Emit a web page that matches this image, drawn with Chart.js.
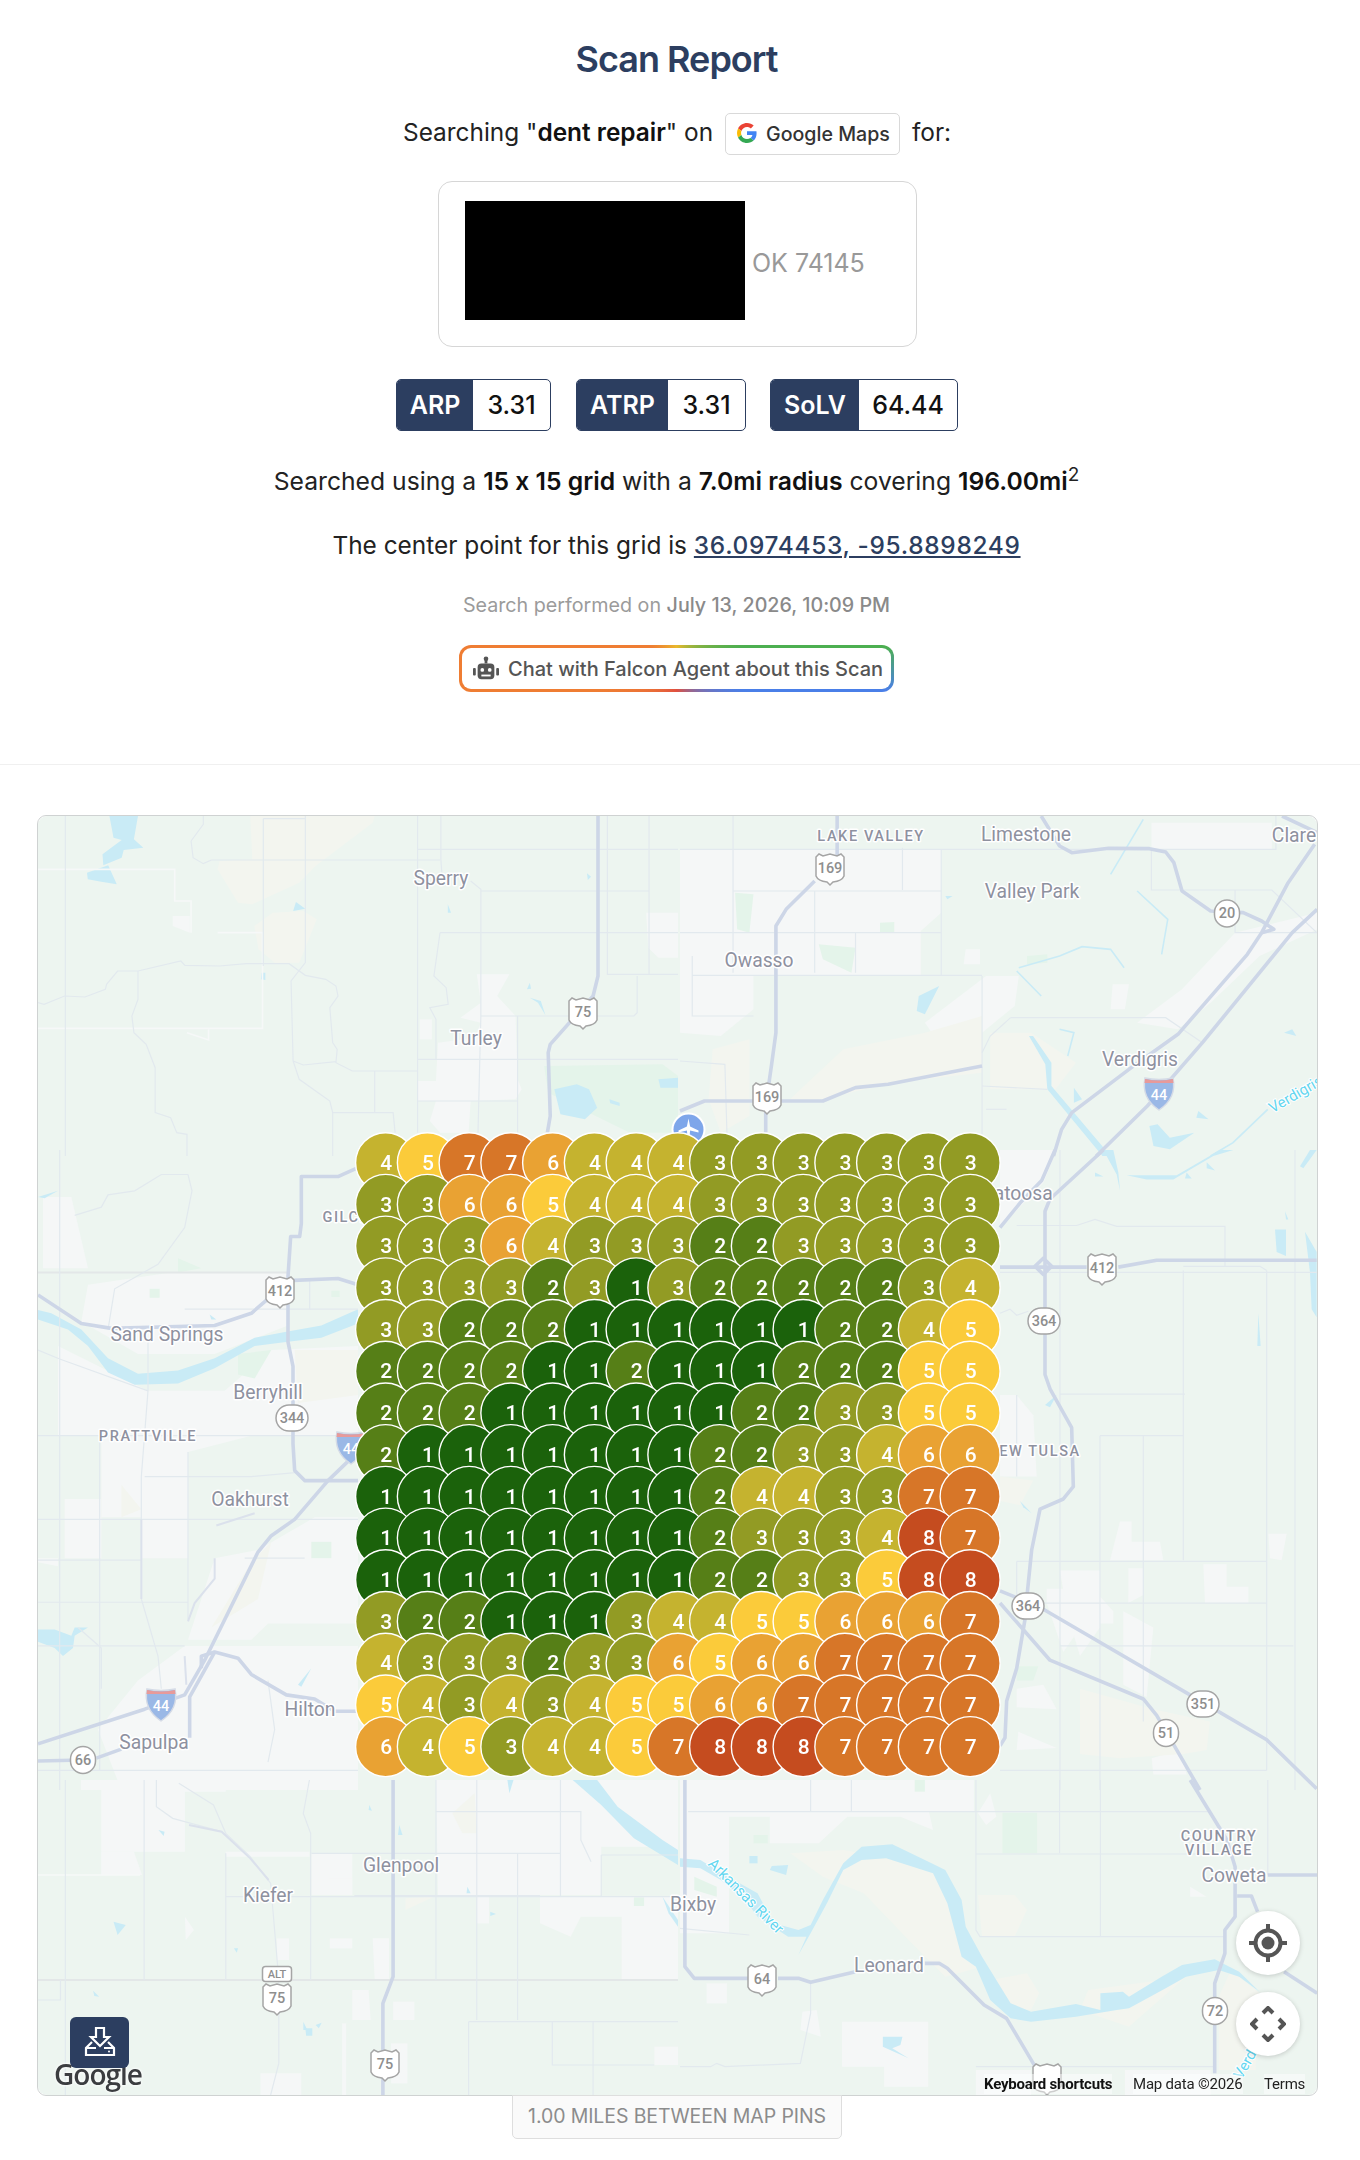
<!DOCTYPE html>
<html><head><meta charset="utf-8"><title>Scan Report</title>
<script src="https://cdn.jsdelivr.net/npm/chart.js@4"></script>
<style>
html,body{margin:0;padding:0;background:#fff}
body{width:1360px;height:2160px;position:relative;overflow:hidden;font-family:Inter,sans-serif;color:#222;font-feature-settings:"calt" 0}
.a{position:absolute;white-space:nowrap}
.c{position:absolute;left:0;width:1353px;text-align:center;white-space:nowrap}
b{font-weight:600;color:#111}
.badge{position:absolute;top:379px;height:50px;border:1px solid #2c3e60;border-radius:5px;display:flex;overflow:hidden;font-size:25px;line-height:50px;font-weight:600}
.badge i{font-style:normal;background:#2c3e60;color:#fff;text-align:center;display:block}
.badge u{text-decoration:none;color:#111;text-align:center;flex:1;display:block;font-weight:500}
#map{position:absolute;left:38px;top:816px;width:1279px;height:1279px;overflow:hidden;border-radius:9px;background:#edf5f0}
#map svg.base{position:absolute;left:0;top:0}
#map canvas{position:absolute;left:0;top:0}
#frame{position:absolute;left:37px;top:815px;width:1279px;height:1279px;border:1px solid #cfd2d2;border-radius:9px;pointer-events:none}
.mt{font-family:Roboto,sans-serif;font-size:19.3px;fill:#8e919f;stroke:#fff;stroke-width:3px;paint-order:stroke;stroke-linejoin:round;text-anchor:middle;dominant-baseline:central}
.mc{font-size:14.5px;font-weight:500;letter-spacing:1.6px}
.mw{font-family:Roboto,sans-serif;font-size:15px;fill:#63d6f0;stroke:#fff;stroke-width:2px;paint-order:stroke;text-anchor:middle;dominant-baseline:central}
.sh{font-family:Roboto,sans-serif;font-size:14.5px;font-weight:500;fill:#8e8e8e;text-anchor:middle;dominant-baseline:central}
.ctl{position:absolute;width:64px;height:64px;border-radius:50%;background:#fff;box-shadow:0 1px 5px rgba(0,0,0,.18)}
.foot{position:absolute;font-family:Roboto,sans-serif;font-size:15px;color:#222;top:2074px;line-height:20px;white-space:nowrap;background:rgba(255,255,255,.45);letter-spacing:-.2px}
</style></head>
<body>
<div class="c" style="top:36px;font-size:36px;line-height:46px;font-weight:600;color:#2c3e60;letter-spacing:-1px">Scan Report</div>

<div class="a" style="left:403px;top:117px;font-size:24.4px;line-height:30px">Searching "<b>dent repair</b>" on</div>
<div class="a" style="left:725px;top:113px;width:173px;height:40px;border:1px solid #d9d9d9;border-radius:5px"></div>
<svg class="a" style="left:737px;top:123px" width="20" height="20" viewBox="0 0 48 48"><path fill="#EA4335" d="M24 9.5c3.54 0 6.71 1.22 9.21 3.6l6.85-6.85C35.9 2.38 30.47 0 24 0 14.62 0 6.51 5.38 2.56 13.22l7.98 6.19C12.43 13.72 17.74 9.5 24 9.5z"/><path fill="#4285F4" d="M46.98 24.55c0-1.57-.15-3.09-.38-4.55H24v9.02h12.94c-.58 2.96-2.26 5.48-4.78 7.18l7.73 6c4.51-4.18 7.09-10.36 7.09-17.65z"/><path fill="#FBBC05" d="M10.53 28.59c-.48-1.45-.76-2.99-.76-4.59s.27-3.14.76-4.59l-7.98-6.19C.92 16.46 0 20.12 0 24c0 3.88.92 7.54 2.56 10.78l7.97-6.19z"/><path fill="#34A853" d="M24 48c6.48 0 11.93-2.13 15.89-5.81l-7.73-6c-2.15 1.45-4.92 2.3-8.16 2.3-6.26 0-11.57-4.22-13.47-9.91l-7.98 6.19C6.51 42.62 14.62 48 24 48z"/></svg>
<div class="a" style="left:766px;top:120px;font-size:19.6px;line-height:28px;font-weight:500;color:#333">Google Maps</div>
<div class="a" style="left:912px;top:117px;font-size:24.4px;line-height:30px">for:</div>

<div class="a" style="left:438px;top:181px;width:477px;height:164px;border:1px solid #d6d6d6;border-radius:14px"></div>
<div class="a" style="left:465px;top:201px;width:280px;height:119px;background:#000"></div>
<div class="a" style="left:752px;top:248px;font-size:25px;line-height:30px;color:#999">OK 74145</div>

<div class="badge" style="left:396px;width:153px"><i style="width:76px">ARP</i><u>3.31</u></div>
<div class="badge" style="left:576px;width:168px"><i style="width:91px">ATRP</i><u>3.31</u></div>
<div class="badge" style="left:770px;width:186px"><i style="width:88px">SoLV</i><u>64.44</u></div>

<div class="c" style="top:463px;font-size:24.7px;line-height:36px">Searched using a <b>15 x 15 grid</b> with a <b>7.0mi radius</b> covering <b>196.00mi</b><sup style="font-size:19px;line-height:0;vertical-align:9px">2</sup></div>
<div class="c" style="top:527px;font-size:24.4px;line-height:36px">The center point for this grid is <span style="color:#2c3e60;text-decoration:underline;font-weight:500;letter-spacing:.7px">36.0974453, -95.8898249</span></div>
<div class="c" style="top:591px;font-size:19.7px;line-height:28px;color:#9b9b9b">Search performed on <span style="font-weight:500;color:#8a8a8a">July 13, 2026, 10:09 PM</span></div>

<div class="a" style="left:459px;top:645px;width:429px;height:41px;border:3px solid transparent;border-radius:12px;background:linear-gradient(#fff,#fff) padding-box,conic-gradient(from 0deg,#e9b82c 0deg,#4caf50 72deg,#4caf50 84deg,#4a7fe8 96deg,#4a7fe8 108deg,#e0503f 180deg,#ef7d33 255deg,#ef7d33 310deg,#e9b82c 360deg) border-box"></div>
<svg class="a" style="left:473px;top:656px" width="26" height="26" viewBox="0 0 28 28" fill="#555"><rect x="5" y="8" width="18" height="17" rx="4"/><rect x="0" y="13" width="3" height="8" rx="1"/><rect x="25" y="13" width="3" height="8" rx="1"/><rect x="12.5" y="2" width="3" height="6"/><circle cx="14" cy="3" r="2.5"/><circle cx="10" cy="15" r="2" fill="#fff"/><circle cx="18" cy="15" r="2" fill="#fff"/><rect x="9" y="20" width="10" height="2" fill="#fff"/></svg>
<div class="a" style="left:508px;top:655px;font-size:20px;line-height:28px;font-weight:500;color:#555">Chat with Falcon Agent about this Scan</div>

<div class="a" style="left:0;top:764px;width:1360px;height:1px;background:#f0f0f0"></div>

<div id="map">
<svg class="base" id="base" width="1279" height="1279" viewBox="38 816 1279 1279" xmlns="http://www.w3.org/2000/svg">
  <g id="geo"></g>
  <g id="labels">
  <text class="mt mc" x="871" y="836">LAKE VALLEY</text>
  <text class="mt" x="1026" y="834">Limestone</text>
  <text class="mt" x="1294" y="835">Clare</text>
  <text class="mt" x="441" y="878">Sperry</text>
  <text class="mt" x="1032" y="891">Valley Park</text>
  <text class="mt" x="759" y="960">Owasso</text>
  <text class="mt" x="476" y="1038">Turley</text>
  <text class="mt" x="1140" y="1059">Verdigris</text>
  <text class="mt" x="1017" y="1193">Catoosa</text>
  <text class="mt mc" x="367" y="1217">GILCREASE</text>
  <text class="mt" x="167" y="1334">Sand Springs</text>
  <text class="mt" x="268" y="1392">Berryhill</text>
  <text class="mt mc" x="148" y="1436">PRATTVILLE</text>
  <text class="mt mc" x="1034" y="1451">NEW TULSA</text>
  <text class="mt" x="250" y="1499">Oakhurst</text>
  <text class="mt" x="310" y="1709">Hilton</text>
  <text class="mt" x="154" y="1742">Sapulpa</text>
  <text class="mt" x="401" y="1865">Glenpool</text>
  <text class="mt" x="268" y="1895">Kiefer</text>
  <text class="mt" x="693" y="1904">Bixby</text>
  <text class="mt" x="889" y="1965">Leonard</text>
  <text class="mt mc" x="1219" y="1836">COUNTRY</text>
  <text class="mt mc" x="1219" y="1850">VILLAGE</text>
  <text class="mt" x="1234" y="1875">Coweta</text>
  <text class="mw" transform="translate(746 1896) rotate(45)">Arkansas River</text>
  <text class="mw" style="text-anchor:start" transform="translate(1270 1109) rotate(-30)">Verdigris River</text>
  <text class="mw" transform="translate(1252 2052) rotate(-60)">Verdigris</text>
  </g>
  <defs>
    <path id="us" d="M-14,-11 L-11,-14 L-7,-12 L0,-14 L7,-12 L11,-14 L14,-11 L14,8 Q12,13 3,14 L0,17 L-3,14 Q-12,13 -14,8 Z" fill="#fff" stroke="#a5a5a5" stroke-width="1.5"/>
    <rect id="o3" x="-16" y="-13" width="32" height="26" rx="13" fill="#fff" stroke="#a5a5a5" stroke-width="1.5"/>
    <rect id="o2" x="-12.5" y="-13.5" width="25" height="27" rx="12.5" fill="#fff" stroke="#a5a5a5" stroke-width="1.5"/>
    <g id="is"><path d="M-14,-14 Q0,-11 14,-14 Q18,6 0,18 Q-18,6 -14,-14Z" fill="#9ab8e6" stroke="#d5dbe6" stroke-width="1.5"/><path d="M-14,-13 Q0,-10 14,-13 L14.5,-9 H-14.5Z" fill="#e79a9a"/></g>
  </defs>
  <g id="shields"></g>
  <g transform="translate(688.5 1129.5)"><circle r="17" fill="#fff"/><circle r="15" fill="#7ea6ea"/><path d="M0,-11 L1.6,-3 L10,1 L10,3 L1.6,1 L1,7 L3,9 L3,10 L0,9 L-3,10 L-3,9 L-1,7 L-1.6,1 L-10,3 L-10,1 L-1.6,-3Z" fill="#fff"/></g>
</svg>
<canvas id="grid" width="1279" height="1279" style="width:1279px;height:1279px"></canvas>
</div>
<div id="frame"></div>

<div class="ctl" style="left:1236px;top:1911px"></div>
<svg class="a" style="left:1248px;top:1923px" width="40" height="40" viewBox="-20 -20 40 40"><circle r="12.5" fill="none" stroke="#555" stroke-width="4"/><circle r="6.5" fill="#555"/><path d="M0,-19 V-12 M0,12 V19 M-19,0 H-12 M12,0 H19" stroke="#555" stroke-width="4"/></svg>
<div class="ctl" style="left:1236px;top:1992px"></div>
<svg class="a" style="left:1250px;top:2006px" width="36" height="36" viewBox="-18 -18 36 36" fill="none" stroke="#555" stroke-width="4"><path d="M-5,-11 L0,-16 L5,-11 M-5,11 L0,16 L5,11 M-11,-5 L-16,0 L-11,5 M11,-5 L16,0 L11,5"/></svg>

<div class="a" style="left:54px;top:2056px;font-family:'Open Sans',sans-serif;font-size:28px;line-height:36px;font-weight:600;letter-spacing:-1px;color:#3b3d40;text-shadow:0 0 3px #fff,0 0 3px #fff">Google</div>
<div class="a" style="left:70px;top:2017px;width:59px;height:51px;background:#2c3e60;border-radius:6px"></div>
<svg class="a" style="left:84px;top:2027px" width="32" height="30" viewBox="0 0 32 30" fill="none" stroke="#fff" stroke-width="2.2"><path d="M12,1 H20 V10 H25 L16,19 L7,10 H12Z"/><path d="M8,15 L2,21 V28 H30 V21 L24,15 M2,21 H12 M20,21 H30"/><circle cx="25" cy="24.5" r="1" fill="#fff" stroke="none"/></svg>

<div class="foot" style="left:984px;font-weight:700;color:#111">Keyboard shortcuts</div>
<div class="foot" style="left:1133px">Map data ©2026</div>
<div class="foot" style="left:1264px">Terms</div>

<div class="a" style="left:512px;top:2095px;width:328px;height:42px;background:#fafafa;border:1px solid #dedede;border-top:1px solid #dedede;border-radius:0 0 5px 5px;text-align:center;font-size:19.5px;line-height:41px;color:#8c8c8c;letter-spacing:-.1px">1.00 MILES BETWEEN MAP PINS</div>

<script>
// Rank values, one list per row (top to bottom, left to right).
const row01 = [4,5,7,7,6,4,4,4,3,3,3,3,3,3,3];
const row02 = [3,3,6,6,5,4,4,4,3,3,3,3,3,3,3];
const row03 = [3,3,3,6,4,3,3,3,2,2,3,3,3,3,3];
const row04 = [3,3,3,3,2,3,1,3,2,2,2,2,2,3,4];
const row05 = [3,3,2,2,2,1,1,1,1,1,1,2,2,4,5];
const row06 = [2,2,2,2,1,1,2,1,1,1,2,2,2,5,5];
const row07 = [2,2,2,1,1,1,1,1,1,2,2,3,3,5,5];
const row08 = [2,1,1,1,1,1,1,1,2,2,3,3,4,6,6];
const row09 = [1,1,1,1,1,1,1,1,2,4,4,3,3,7,7];
const row10 = [1,1,1,1,1,1,1,1,2,3,3,3,4,8,7];
const row11 = [1,1,1,1,1,1,1,1,2,2,3,3,5,8,8];
const row12 = [3,2,2,1,1,1,3,4,4,5,5,6,6,6,7];
const row13 = [4,3,3,3,2,3,3,6,5,6,6,7,7,7,7];
const row14 = [5,4,3,4,3,4,5,5,6,6,7,7,7,7,7];
const row15 = [6,4,5,3,4,4,5,7,8,8,8,7,7,7,7];
const rows = [row01,row02,row03,row04,row05,row06,row07,row08,row09,row10,row11,row12,row13,row14,row15];
const rankColors = {1:'#1b620b',2:'#567f17',3:'#929b24',4:'#c5b32f',5:'#fbcb3a',6:'#e9a233',7:'#d77628',8:'#c54c1f'};

const points = [], ranks = [];
rows.forEach((r, y) => r.forEach((v, x) => { points.push({x, y}); ranks.push(v); }));

const rankLabels = {
  id: 'rankLabels',
  afterDatasetsDraw(chart) {
    const {ctx, scales} = chart;
    ctx.save();
    ctx.font = '500 21px Roboto, sans-serif';
    ctx.fillStyle = '#fff';
    ctx.textAlign = 'center';
    ctx.textBaseline = 'middle';
    points.forEach((p, i) => ctx.fillText(String(ranks[i]), scales.x.getPixelForValue(p.x) + 0.5, scales.y.getPixelForValue(p.y) + 2));
    ctx.restore();
  }
};

new Chart(document.getElementById('grid'), {
  type: 'scatter',
  data: { datasets: [{ data: points,
    pointRadius: 30, pointHoverRadius: 30,
    pointBackgroundColor: ranks.map(v => rankColors[v]),
    pointBorderColor: '#fff', pointBorderWidth: 1.4 }] },
  options: {
    responsive: false, animation: false, devicePixelRatio: 1,
    layout: { padding: 0, autoPadding: false },
    plugins: { legend: { display: false }, tooltip: { enabled: false } },
    clip: false,
    scales: {
      x: { type: 'linear', display: false, min: -8.326, max: 22.309 },
      y: { type: 'linear', display: false, reverse: true, min: -8.312, max: 22.352 }
    }
  },
  plugins: [rankLabels]
});

// Decorative base map, hand-traced in zoom-crop coordinates per region.
const regions = [
 { t:'translate(38 816) scale(.40816 .33333)',
   urban:['M1075,475 H1155 L1125,540 L1170,600 L1175,790 L1185,820 L1170,850 L1060,855 L1055,950 L985,950 L960,915 L975,855 H930 V795 H975 L980,680 L1070,665 L1085,620 L1035,605 L1085,560Z','M1490,290 H1568 V425 H1520 L1495,395Z','M330,300 H372 V350 L330,330Z','M935,610 H965 V670 H935Z'],
   beige:['M520,0 L825,0 L820,20 L680,150 L640,200 L525,265 L490,260 L440,160 L445,135 L525,130 Z','M530,330 L575,290 L650,285 L683,310 L640,440 L580,440 L540,400Z'],
   green:['M1240,750 L1530,745 L1568,780 V950 H1450 L1250,830Z'],
   water:['M175,0 L245,0 L235,70 L258,95 L210,102 L205,125 L160,148 L158,115 L205,72 L185,65Z','M120,170 L172,148 L193,205 L155,197 L122,190Z','M1265,820 L1320,805 L1350,820 L1370,875 L1340,910 L1280,895Z','M1520,790 L1568,785 V815 H1525Z','M625,285 L632,258 L655,278Z','M1198,520 L1205,500 L1208,518Z','M1205,545 L1232,555 L1243,597 L1225,560Z','M1400,850 L1425,860 L1425,870 L1402,862Z','M1004,265 L1012,290 L1004,290Z','M1345,172 L1355,182 L1347,192Z','M548,470 L557,470 L557,492 L546,490Z'],
   white:['M0,160 H335 V255 H375 V350','M0,637 H550 V350 H440','M365,650 L418,672 V640'],
   minor:['M930,0 V950','M987,0 V130 L990,180','M1060,195 L1085,220 V600 L1078,950','M425,132 H985','M552,8 V450','M552,8 H655','M655,0 V440 L620,495 L625,735 L640,790 L715,855 L722,890 V1020','M930,100 H1568','M1085,225 H1497','M985,350 H1568','M1497,0 V475','M1395,0 V475 H1568','M985,350 L970,480 L1000,515 L1005,565 L960,575 L975,610 V730','M930,730 H1568','M1085,600 H1460 L1468,590 V480','M930,855 H1175','M1175,600 V950','M0,560 L15,565 L65,540 L115,543 L165,520 L168,505 L195,465 H245 L350,435 L360,448 L445,450 L510,443 H615 L655,478 L705,490 L730,510 L735,540 L715,575 L722,680 L733,700 L730,740 L770,765 H930','M245,465 V550 L230,600 L235,650 L265,685 L287,755 V890 L325,905 L340,950 L365,955 V1020','M625,735 L650,747 L730,737','M825,765 V890','M722,890 H870 L875,950','M375,75 L405,25 V0','M375,75 L380,125 L405,143 L425,132','M67,0 V1020'],
   major:['M1372,0 V480 L1360,540 L1255,685 L1250,710 L1255,900 L1248,950'] },
 { t:'translate(680 816) scale(.40816 .33333)',
   urban:['M0,100 H640 V290 L590,345 V480 H0Z','M600,620 L750,480 H830 L820,570 L710,680 L640,690Z','M1360,350 L1561,290 V340 L1420,420 L1300,560 L1220,640 L1120,620 L1230,520Z','M700,400 H735 V445 H695Z','M1060,505 H1100 L1090,580 H1055Z','M0,480 H180 V580 L100,660 L0,650Z','M1155,20 H1450 V100 H1155Z'],
   beige:['M400,700 L600,650 L740,600 L740,770 L520,800 L350,850 L260,860 Z','M760,650 L860,650 L970,740 L920,820 L760,820Z','M80,700 L170,670 L170,900 L100,950 L70,850Z'],
   green:['M340,385 L430,395 L420,470 L350,430Z','M135,230 L180,235 L170,350 L140,340Z','M850,420 L900,415 L900,440 L850,445Z','M490,320 L525,318 L525,350 L490,350Z'],
   water:['M585,540 L635,510 L600,595 L580,585Z','M1150,930 L1170,925 L1200,965 L1260,950 L1200,1000 L1160,990Z','M855,660 L865,660 L910,740 L910,810 L1055,1020 L1035,1020 L900,820 L895,745Z','M1270,885 L1295,910 L1265,905Z','M1480,650 L1510,660 L1500,640Z','M650,240 L668,240 L655,250Z','M965,815 L985,850 L965,860Z'],
   thinw:['M1120,225 L1195,310 L1180,415','M830,455 L930,420 L985,392 L1055,400 L1088,455','M825,465 L885,540','M1440,880 L1355,980 L1300,1020','M1055,175 L1135,10','M930,640 L965,650 L950,720'],
   minor:['M810,605 H1190 L1280,680','M740,710 L760,660 L810,605','M740,480 V1020','M30,478 H740','M30,420 V600 H180','M0,100 H1460 V0','M0,350 H640','M130,225 H640','M545,95 V222','M640,100 V480','M1155,100 V222 H1450 L1560,350','M330,225 V470','M130,0 V470','M0,735 L110,745 L115,950','M1360,222 V350 H1561','M430,350 V470','M750,880 H800','M740,810 L900,820'],
   major:['M385,0 V120','M330,195 L260,280 L235,330 V650 L225,740 L210,870 V950','M885,0 L930,90 L960,110 L1050,97 L1150,98 L1190,108 L1210,140 L1230,225 L1300,285 L1380,290 L1425,315 L1455,340 L1425,350','M1555,85 L1490,200 L1425,350 L1390,415 L1220,655 L1100,760 L960,890 L935,940 L915,1020','M1561,280 L1500,350 L1280,680 L1145,870 L1020,1020','M0,885 L60,855 H350 L430,815 L510,805 L740,750','M1475,0 L1561,50'] },
 { t:'translate(38 1150) scale(.33333 .40816)',
   urban:['M60,480 L330,590 H560 L700,490 L960,480 V700 H640 L450,740 V1000 H310 V900 H190 V700 H60Z','M440,1215 H960 V1568 H250 L180,1420 L300,1300Z','M530,1000 L660,980 L830,900 L960,900 V1160 H690 L640,1200 H450Z','M15,115 H100 L150,290 H15Z','M150,330 L400,300 L750,300 V430 L530,500 L300,500 L130,420Z','M0,1000 H60 V1020 L0,1010Z','M80,855 H190 V1000 H80Z'],
   beige:['M250,820 L310,880 L250,900Z','M520,1170 L640,1010 L700,960 L660,1100Z','M770,490 H960 V600 L780,620Z'],
   green:['M820,960 H880 V1000 H820Z','M420,265 L490,290 L420,300Z','M600,500 L700,490 L650,560 L600,550Z','M880,345 H905 V360 H880Z','M335,340 H365 V362 H335Z'],
   water:['M0,392 L40,400 L130,440 L210,510 L300,548 L420,540 L530,510 L650,460 L745,445 L850,430 L960,390 V425 L850,460 L750,470 L650,480 L530,535 L420,572 L290,575 L210,545 L150,480 L90,440 L0,415Z','M0,1175 L50,1175 L100,1190 L110,1170 L150,1170 L110,1190 L105,1220 L75,1240 L50,1220 L0,1205Z','M0,115 L60,100 L20,118Z','M780,1310 L820,1270 L790,1315Z','M515,403 L535,415 L520,415Z'],
   grey:['M0,300 H750'],
   minor:['M65,0 V1568','M450,60 L462,100 L440,190 L360,280 L230,340 L210,440','M110,160 L190,140 L210,110 L290,100 L370,60 H450','M0,700 H960','M185,700 V1520','M0,905 H960','M0,1005 H310','M0,1108 H450','M0,1215 H440','M0,1520 H960','M330,470 V590 L310,800 V905','M320,800 H640 L780,790','M450,740 V1150','M815,320 V390','M440,390 H960','M620,1000 H800','M310,1100 L360,1240 L370,1320','M0,490 L65,512 L330,590','M120,1170 L190,1220 V1320','M690,1300 L710,1420 L690,1500'],
   road2:['M535,920 L650,890','M530,1000 V1050 L470,1110 L450,1155','M310,905 V1100','M440,1240 L445,1310'],
   major:['M0,355 L130,425 L220,437 L530,430 L640,400 L690,365','M750,320 L900,315 L960,330','M955,45 L900,65 H790 V180 L785,212 H758 L750,310 V470 L765,530 V720 L770,785 L800,810 H960','M0,1455 L320,1370 L440,1335 L500,1250 L660,985 L700,945 L770,905 L870,810 L940,755','M455,1440 V1340 L530,1230 L600,1245 L640,1285 L745,1335 L830,1345 L890,1375 H960','M530,1230 L490,1240 L490,1270','M0,1497 L100,1495','M175,1490 L250,1468'] },
 { t:'translate(1000 1150) scale(.33333 .40816)',
   urban:['M0,0 H170 L130,80 L0,190Z','M0,600 H50 V800 H0Z','M50,600 L100,650 L110,800 H50Z','M140,1075 H280 L340,1130 L340,1160 L250,1160 L190,1230 L140,1110Z','M360,910 H395 V960 H480 L490,1005 H330Z','M385,1025 H430 V1090 L385,1110Z','M610,1015 H680 V1070 H745 V1110 H615Z','M805,940 H860 L845,1005 L810,1000Z','M50,1320 L130,1310 L170,1370 L50,1365Z','M55,1425 L170,1465 L50,1470Z','M180,1030 H300 V1170 L240,1240 L200,1130Z','M370,1130 L460,1170 L440,1340 L370,1310Z','M345,1410 L410,1390 L360,1490Z','M455,1490 L540,1470 L560,1530 L460,1530Z'],
   beige:['M240,1320 L460,1370 L630,1400 L620,1470 L550,1480 L360,1490 L240,1480Z','M0,800 L100,810 L60,870 L0,860Z'],
   green:['M50,1265 L115,1265 L100,1300 L50,1300Z'],
   water:['M825,195 H858 V260 L830,250Z','M900,40 L930,0 H950 L910,45Z','M915,200 L950,250 V410 L935,390 L930,300Z','M135,625 L170,600 L150,630Z','M60,860 L95,890 L70,875Z','M775,400 L782,480 L772,480Z','M855,150 L865,170 L858,170Z','M380,62 L530,62 L660,0 H700 L640,15 L520,72 L440,72Z','M310,0 L340,0 L355,55 L360,100 L350,60Z','M620,30 L645,50 L620,45Z','M560,55 L575,70 L555,70Z','M285,55 L310,65 L285,65Z'],
   minor:['M180,0 V1568','M550,295 V1005','M800,295 V1520','M300,700 V1568','M430,700 V1400','M300,700 H550','M180,598 H555','M50,1008 H800','M50,1110 H800','M180,1215 H880','M180,1520 H800','M50,185 L230,185 L285,170 L350,187 H675 V285','M0,400 L30,390 L50,405 L85,395','M550,285 H780 L800,295','M0,300 H950','M50,600 V800','M885,0 V1568','M50,1008 V1100','M0,1520 H180'],
   major:['M0,190 L60,130 L125,75 L165,0','M310,0 L150,120 L135,150 V550 L150,585 L215,680 L220,825 L190,855 L120,880 L95,980 L80,1100 L75,1150 L50,1270 L20,1350 L15,1440 L0,1460','M0,287 H260','M355,287 L470,270 H950','M0,1080 L60,1100 L130,1125 L570,1335 L800,1445 L950,1565','M0,1110 L150,1250 L430,1345 L470,1385 L600,1568','M105,285 L130,265 L155,285 L130,305Z'] },
 { t:'translate(38 1780) scale(.40816 .33333)',
   urban:['M105,0 H460 V35 H360 V215 H155 V30 H105Z','M975,0 H1568 V230 L1500,200 H1380 V345 H980Z','M1230,350 H1568 V600 H1430 V410 H1330 L1305,470 L1230,430Z','M670,220 H770 L770,345 H670Z','M715,295 H770 V345 H715Z','M715,475 H770 V505 H715Z','M820,475 L860,475 L860,600 H825Z','M585,475 H615 V540 H585Z','M770,630 L810,630 L815,720 L770,720Z','M870,665 H922 V720 H870Z','M865,790 H905 V910 H865Z','M545,880 H645 V945 H545Z','M745,730 H755 V945 H745Z','M1075,350 H1105 V430 H1075Z','M360,410 L382,450 L362,480Z','M1510,800 H1568 V855 H1510Z','M460,215 H665 V230 H460Z','M155,215 H235 L255,285 H155Z'],
   beige:['M1015,100 L1070,40 L1075,160 L1040,160Z','M900,355 L970,350 L900,390Z'],
   green:['M1460,352 H1485 V378 H1460Z'],
   water:['M1310,0 H1370 L1420,80 L1530,180 L1568,210 V255 L1460,175 L1380,75Z','M650,725 L660,750 L650,750Z','M655,745 H672 V767 H657Z','M680,735 L695,728 L688,745Z','M295,150 L310,155 L308,168Z','M885,135 L893,165 L882,165Z','M185,425 L215,435 L195,465Z','M1108,395 L1122,402 L1108,408Z','M1150,0 H1165 L1155,40Z','M812,75 L818,92 L810,90Z','M480,505 L490,505 L487,518Z','M135,632 L150,650 L138,648Z','M1052,320 L1060,340 L1050,340Z','M1530,350 L1568,420 V440 L1545,400Z'],
   grey:['M0,600 H1568'],
   white:['M0,285 H250'],
   minor:['M260,0 V600','M460,220 V600','M665,0 L650,100 L668,160 V600','M670,220 H1280','M1075,0 V720','M975,95 H1330 V180 L1355,245','M1280,0 V350','M975,0 V600','M460,350 H1568','M1380,225 V350','M1380,225 H1568','M1175,220 V720','M1055,725 H1568','M1260,725 V855 H1510','M1360,725 V945','M1055,725 V945','M345,10 L430,75 L460,160 L520,230 L570,310 L590,600 L590,850 L570,945','M290,0 V80 L330,115 L450,155','M55,600 V660 H0','M67,0 V945','M775,347 H1230'],
   road2:['M370,135 L450,155 L520,235 L565,300'],
   major:['M870,0 V590 L845,670 V945'] },
 { t:'translate(680 1780) scale(.40816 .33333)',
   urban:['M397,725 H608 V920 H500 V860 H397Z','M0,0 H720 V95 H610 L620,150 L540,110 H410 L340,190 H220 V110 H120 V460 H0Z','M730,100 L760,40 L775,110 L750,135Z','M65,610 H115 V670 H65Z','M300,695 L335,690 L345,770 L295,750Z','M725,870 H860 V945 H725Z','M1250,320 L1290,350 L1250,350Z','M1090,870 H1300 V945 H1090Z'],
   beige:['M270,220 L400,210 L500,230 L650,290 L700,450 L740,560 L650,590 L560,480 L450,340 L350,290Z','M1000,630 L1240,590 L1100,740 L980,690Z','M760,600 L850,580 L880,640 L860,690 L790,680Z','M730,345 L820,345 L850,390 L820,470 L740,470Z','M1350,570 L1420,640 L1410,870 L1320,870 L1320,650Z'],
   green:['M790,98 H875 V220 H790Z','M575,0 H600 V35 H575Z','M180,165 H215 V190 H180Z','M35,290 L90,320 L90,350 L35,330Z'],
   water:['M0,235 L50,240 L110,285 L190,340 L230,430 L290,450 L320,435 L350,360 L400,250 L445,200 L520,193 L600,240 L650,270 L690,360 L700,440 L740,530 L810,670 L860,695 L970,672 L1030,690 V640 L1085,635 L1100,650 L1180,590 L1230,555 L1310,538 L1370,575 L1420,635 L1370,590 L1320,570 L1240,590 L1190,625 L1100,685 L1070,690 L970,710 L860,725 L810,715 L760,660 L725,560 L690,530 L655,370 L620,280 L505,235 L445,240 L400,270 L360,370 L320,460 L290,525 L310,470 L265,470 L190,410 L160,360 L100,300 L50,265 L0,260Z','M497,770 H545 L540,795 L520,805 L560,835 L497,800Z','M170,228 H190 V250 H170Z','M225,258 L265,255 L260,285 L220,270Z'],
   minor:['M725,0 V450 L735,470 H1335','M1030,0 V470','M930,0 V220','M725,222 H1300','M20,95 H1300','M320,0 V95','M420,0 V95','M1440,0 V285','M320,607 V700 L295,850 L110,860 L90,850 L75,860 H0','M0,445 L170,465','M1310,860 H725'],
   major:['M12,0 V560 L35,595 H170','M240,595 H290 L320,607 L430,575','M600,550 H635 L655,565 L745,675 L800,715 L880,880','M1250,0 L1340,180 L1360,260 V410 L1335,450 V520 L1310,610 V660','M1310,730 V880','M1440,285 H1561','M1365,348 H1400 L1415,395','M1480,575 L1561,640'] }
];
const layerStyles = [
 ['urban','fill="#f5f7f7"'],['beige','fill="#f3f5ef"'],['green','fill="#e4f4ea"'],['water','fill="#c9ebf6"'],
 ['thinw','fill="none" stroke="#c9ebf6" stroke-width="1.6"'],
 ['white','fill="none" stroke="#f6f8f8" stroke-width="1.6"'],
 ['grey','fill="none" stroke="#e3e7e8" stroke-width="2"'],
 ['minor','fill="none" stroke="#e2e9ee" stroke-width="1.2"'],
 ['road2','fill="none" stroke="#dbe1ec" stroke-width="2"'],
 ['major','fill="none" stroke="#cdd6e7" stroke-width="3.6" stroke-linejoin="round"']
];
let geo = '';
layerStyles.forEach(([k, st]) => regions.forEach(r => {
  (r[k] || []).forEach(d => { geo += `<path transform="${r.t}" d="${d}" ${st} vector-effect="non-scaling-stroke"/>`; });
}));
document.getElementById('geo').innerHTML = geo;

const shieldList = [
 ['us',830,868,'169'],['o2',1227,913.5,'20'],['us',583,1012,'75'],['us',767,1097,'169'],['is',1159,1092,'44'],
 ['us',1102,1268,'412'],['us',280,1291,'412'],['o3',1044,1321,'364'],['o3',292,1418,'344'],['is',351,1446,'44'],
 ['o3',1028,1606,'364'],['is',161,1703,'44'],['o3',1203,1704,'351'],['o2',1166,1733,'51'],['o2',83,1760,'66'],
 ['us',277,1998,'75'],['us',762,1979,'64'],['us',385,2064,'75'],['o2',1215,2011,'72'],['us',1047,2078,'']
];
let sh = '';
shieldList.forEach(([k,x,y,t]) => {
  const col = k === 'is' ? 'style="fill:#fff"' : '';
  sh += `<g transform="translate(${x} ${y})"><use href="#${k}"/><text class="sh" y="${k==='is'?3:0}" ${col}>${t}</text></g>`;
});
sh += `<g transform="translate(277 1974)"><rect x="-14.5" y="-7.5" width="29" height="15" rx="3" fill="#fff" stroke="#a5a5a5" stroke-width="1.5"/><text class="sh" style="font-size:11px">ALT</text></g>`;
document.getElementById('shields').innerHTML = sh;
</script>
</body></html>
